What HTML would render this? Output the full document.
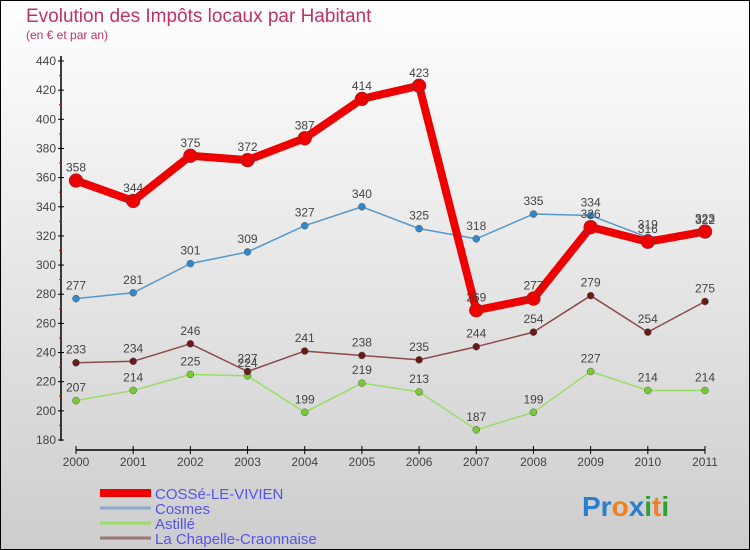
<!DOCTYPE html>
<html><head><meta charset="utf-8"><style>
body{margin:0;}
svg{display:block;font-family:"Liberation Sans",sans-serif;}
</style></head><body>
<svg id="chart" width="750" height="550" xmlns="http://www.w3.org/2000/svg">
<defs><linearGradient id="bg" x1="0" y1="0" x2="0" y2="1"><stop offset="0" stop-color="#ffffff"/><stop offset="1" stop-color="#cdcdcd"/></linearGradient></defs>
<rect x="0.5" y="0.5" width="749" height="549" fill="url(#bg)" stroke="#000"/>
<text x="26" y="22" font-size="19" fill="#c0306a">Evolution des Impôts locaux par Habitant</text>
<text x="26" y="39" font-size="12" fill="#c0306a">(en € et par an)</text>
<g id="axes"></g>
<g id="series"></g>
<g id="legend"></g>
<text x="582" y="516" font-size="28" font-weight="bold"><tspan fill="#2a7fd0">Pr</tspan><tspan fill="#f08020">o</tspan><tspan fill="#2a7fd0">x</tspan><tspan fill="#30a030">i</tspan><tspan fill="#f08020">t</tspan><tspan fill="#30a030">i</tspan></text>
</svg>
<script>
const years=["2000","2001","2002","2003","2004","2005","2006","2007","2008","2009","2010","2011"];
const yTicks=[180,200,220,240,260,280,300,320,340,360,380,400,420,440];
const cosse=[358,344,375,372,387,414,423,269,277,326,316,323];
const cosmes=[277,281,301,309,327,340,325,318,335,334,319,322];
const astille=[207,214,225,224,199,219,213,187,199,227,214,214];
const chapelle=[233,234,246,227,241,238,235,244,254,279,254,275];
const seriesNames=["COSSé-LE-VIVIEN","Cosmes","Astillé","La Chapelle-Craonnaise"];
const NS="http://www.w3.org/2000/svg";
const xS=i=>76+i*(705-76)/11;
const yS=v=>440-(v-180)*(440-61)/260;
function mk(tag,attrs,parent){const e=document.createElementNS(NS,tag);for(const k in attrs)e.setAttribute(k,attrs[k]);parent.appendChild(e);return e;}
const ax=document.getElementById('axes');
let l=mk('line',{x1:61,y1:56,x2:61,y2:441,stroke:'#000','stroke-width':1.5},ax);


l=mk('line',{x1:76,y1:450,x2:705,y2:450,stroke:'#000','stroke-width':1.5},ax);


yTicks.forEach((v,i)=>{
 mk('line',{x1:58,y1:yS(v),x2:64,y2:yS(v),stroke:'#000'},ax);
 if(i<yTicks.length-1)mk('line',{x1:59,y1:yS(v+10),x2:62,y2:yS(v+10),stroke:'#d00'},ax);
 const t=mk('text',{x:56,y:yS(v)+4,'font-size':12,fill:'#444','text-anchor':'end'},ax);
 t.textContent=v;
 
 
});
years.forEach((y,i)=>{
 mk('line',{x1:xS(i),y1:446,x2:xS(i),y2:454,stroke:'#000'},ax);
 const t=mk('text',{x:xS(i),y:466,'font-size':12,fill:'#444','text-anchor':'middle'},ax);
 t.textContent=y;
 
 
});
const sg=document.getElementById('series');
function draw(data,color,w,r,dot,name){
 const g=mk('g',{},sg);
 
 
 const p=mk('polyline',{points:data.map((v,i)=>xS(i)+','+yS(v)).join(' '),fill:'none',stroke:color,'stroke-width':w,'stroke-linejoin':'round'},g);
 
 
 data.forEach((v,i)=>{
  const c=mk('circle',{cx:xS(i),cy:yS(v),r:r,fill:dot,stroke:'#555','stroke-width':0.5},g);
  
  
  const t=mk('text',{x:xS(i),y:yS(v)-9,'font-size':12,fill:'#444','text-anchor':'middle'},g);
  t.textContent=v;
  
  
 });
}
draw(astille,'#99dd66',1.5,3.5,'#77cc33','astille');
draw(chapelle,'#8b4a4a',1.5,3.5,'#6b1a1a','chapelle');
draw(cosmes,'#5599cc',1.5,3.5,'#3388cc','cosmes');
draw(cosse,'#ee0000',8,7,'#ee0000','cosse');
const lg=document.getElementById('legend');
const lc=['#ee0000','#88aacc','#99dd66','#997777'];
const lw=[8,3,3,3];
seriesNames.forEach((n,i)=>{
 const y=493+i*15;
 const ln=mk('line',{x1:100,y1:y,x2:151,y2:y,stroke:lc[i],'stroke-width':lw[i]},lg);
 
 
 const t=mk('text',{x:155,y:y+6,'font-size':15,fill:'#5555ee'},lg);
 t.textContent=n;
 
 
});
</script>
</body></html>
